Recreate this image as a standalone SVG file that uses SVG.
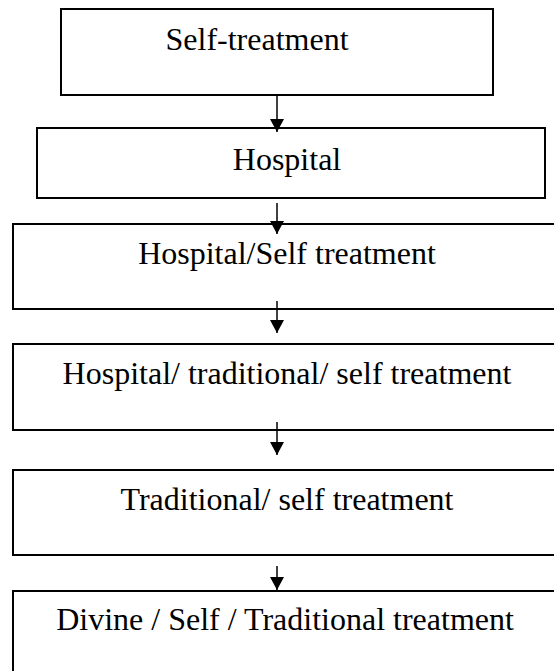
<svg xmlns="http://www.w3.org/2000/svg" width="554" height="671" viewBox="0 0 554 671">
<style>
.box{fill:#fff;stroke:#000;stroke-width:2}
.lbl{font-family:"Liberation Serif","Times New Roman",serif;font-size:32px;fill:#000;text-anchor:middle}
.con{stroke:#000;stroke-width:1.5;fill:none}
</style>
<defs>
<marker id="ah" markerUnits="userSpaceOnUse" markerWidth="14" markerHeight="14" refX="13" refY="7" orient="auto">
<path d="M0,0 L13,7 L0,14 Z" fill="#000"/>
</marker>
</defs>
<rect width="554" height="671" fill="#fff"/>
<g id="n1"><rect class="box" x="61" y="9" width="432" height="86"/><text class="lbl" x="257" y="50">Self-treatment</text></g>
<g id="n2"><rect class="box" x="37" y="128" width="508" height="70"/><text class="lbl" x="287" y="170">Hospital</text></g>
<g id="n3"><rect class="box" x="13" y="224" width="560" height="85"/><text class="lbl" x="287" y="264">Hospital/Self treatment</text></g>
<g id="n4"><rect class="box" x="13" y="344" width="560" height="86"/><text class="lbl" x="287" y="384">Hospital/ traditional/ self treatment</text></g>
<g id="n5"><rect class="box" x="13" y="470" width="560" height="85"/><text class="lbl" x="287" y="510">Traditional/ self treatment</text></g>
<g id="n6"><rect class="box" x="13" y="591" width="560" height="110"/><text class="lbl" x="285" y="630">Divine / Self / Traditional treatment</text></g>
<g id="connectors">
<line class="con" x1="277" y1="95" x2="277" y2="132" marker-end="url(#ah)"/>
<line class="con" x1="277" y1="203" x2="277" y2="234" marker-end="url(#ah)"/>
<line class="con" x1="277" y1="301" x2="277" y2="333" marker-end="url(#ah)"/>
<line class="con" x1="277" y1="422" x2="277" y2="455" marker-end="url(#ah)"/>
<line class="con" x1="277" y1="566" x2="277" y2="590" marker-end="url(#ah)"/>
</g>
</svg>
